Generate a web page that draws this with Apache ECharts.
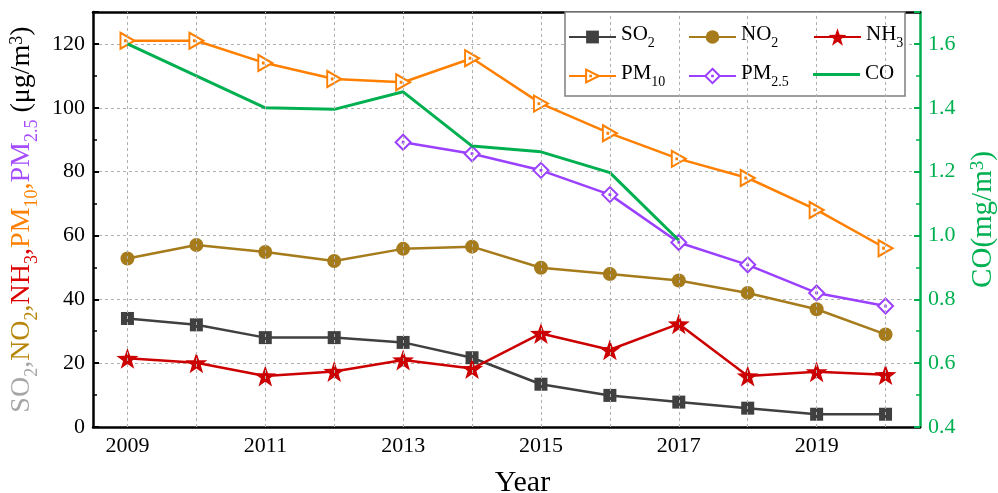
<!DOCTYPE html>
<html>
<head>
<meta charset="utf-8">
<script src="https://cdn.jsdelivr.net/npm/echarts@6/dist/echarts.min.js"></script>
<style>
html,body{margin:0;padding:0;background:#fff;}
#chart{width:998px;height:493px;}
</style>
</head>
<body>
<div id="chart"></div>
<script>
// Annual mean concentrations, 2009-2020
const years = ['2009','2010','2011','2012','2013','2014','2015','2016','2017','2018','2019','2020'];
const so2  = [34, 32, 28, 28, 26.5, 21.7, 13.4, 9.9, 7.8, 5.9, 4.0, 4.0];
const no2  = [52.8, 57, 54.8, 52, 55.8, 56.5, 49.9, 47.9, 45.9, 42, 36.9, 29];
const nh3  = [21.5, 20.1, 16, 17.4, 21, 18.3, 29.3, 24.2, 32.3, 16, 17.3, 16.4];
const pm10 = [121, 121, 114, 109, 108, 115.5, 101.3, 92, 84, 78, 68, 56];
const pm25 = [null, null, null, null, 89.2, 85.6, 80.4, 72.8, 57.8, 50.8, 42, 37.9];
const co   = [1.6, 1.5, 1.4, 1.395, 1.45, 1.28, 1.262, 1.197, 0.985, null, null, null];

const FONT = 'Liberation Serif';
const C = {
  so2: '#404040', no2: '#a67b1b', nh3: '#cc0000',
  pm10: '#ff8000', pm25: '#9b40ff', co: '#00b050'
};

const STAR = 'path://M10,0L12.35,6.76L19.51,6.91L13.8,11.24L15.88,18.09L10,14L4.12,18.09L6.2,11.24L0.49,6.91L7.65,6.76Z';
const TRI  = 'path://M0,0L17,10L0,20ZM5.5,9.5L6.5,9.5L6.5,10.5L5.5,10.5Z';
const DIA  = 'path://M10,0L20,10L10,20L0,10ZM9.5,9.5L10.5,9.5L10.5,10.5L9.5,10.5Z';

// rich-text labels with chemical subscripts
const legendText = {
  'SO2': '{m|SO}{s|2}', 'NO2': '{m|NO}{s|2}', 'NH3': '{m|NH}{s|3}',
  'PM10': '{m|PM}{s|10}', 'PM2.5': '{m|PM}{s|2.5}', 'CO': '{m|CO}'
};
const legendRich = {
  m: { fontFamily: FONT, fontSize: 21, color: '#000', lineHeight: 23, verticalAlign: 'top' },
  s: { fontFamily: FONT, fontSize: 14, color: '#000', verticalAlign: 'top', padding: [12, 0, 0, 0] }
};
const legendNames = ['SO2', 'NO2', 'NH3', 'PM10', 'PM2.5', 'CO'];
const legendIconH = { 'SO2': 16, 'NO2': 17, 'NH3': 22, 'PM10': 16, 'PM2.5': 18, 'CO': 3 };
const legendX = [568, 688, 813];
const legendY = [24, 63];

function nameStyle(color, size) {
  return { fontFamily: FONT, fontSize: size, color: color, lineHeight: size + 2, verticalAlign: 'top' };
}
function subStyle(color, size, pad) {
  return { fontFamily: FONT, fontSize: size, color: color, verticalAlign: 'top', padding: [pad, 0, 0, 0] };
}
function supStyle(color, size) {
  return { fontFamily: FONT, fontSize: size, color: color, verticalAlign: 'top', padding: [0, 0, 0, 0] };
}

const leftName = '{g|SO}{gs|2}{g|,}{b|NO}{bs|2}{b|,}{r|NH}{rs|3}{r|,}{o|PM}{os|10}{o|,}{p|PM}{ps|2.5}{k| (μg/m}{kp|3}{k|)}';
const leftRich = {
  g: nameStyle('#a6a6a6', 28), gs: subStyle('#a6a6a6', 18, 15),
  b: nameStyle('#b8860b', 28), bs: subStyle('#b8860b', 18, 15),
  r: nameStyle('#dd0000', 28), rs: subStyle('#dd0000', 18, 15),
  o: nameStyle('#ff8000', 28), os: subStyle('#ff8000', 18, 15),
  p: nameStyle('#a64dff', 28), ps: subStyle('#a64dff', 18, 15),
  k: nameStyle('#000', 28), kp: supStyle('#000', 18)
};
const rightName = '{c|CO(mg/m}{cp|3}{c|)}';
const rightRich = { c: nameStyle(C.co, 29), cp: supStyle(C.co, 19) };

const gridDash = { type: [3, 3], color: '#b0b0b0', width: 1 };

const option = {
  animation: false,
  backgroundColor: '#fff',
  grid: { left: 93, right: 78, top: 12, bottom: 66, containLabel: false, outerBoundsMode: 'none' },
  legend: legendNames.map((n, i) => ({
    data: n === 'CO' ? [{ name: n, icon: 'rect', itemStyle: { color: C.co } }] : [n],
    left: legendX[i % 3],
    top: legendY[Math.floor(i / 3)],
    padding: 0,
    itemWidth: 47,
    itemHeight: legendIconH[n],
    selectedMode: false,
    z: 6,
    formatter: name => legendText[name],
    textStyle: { fontFamily: FONT, fontSize: 21, color: '#000', rich: legendRich }
  })),
  graphic: [{
    type: 'rect', z: 5, silent: true,
    shape: { x: 565, y: 12, width: 340, height: 84 },
    style: { fill: '#fff', stroke: '#7f7f7f', lineWidth: 1.5 }
  }],
  xAxis: [{
    type: 'category', position: 'bottom', data: years, boundaryGap: true,
    name: 'Year', nameLocation: 'middle', nameGap: 41,
    nameTextStyle: { fontFamily: FONT, fontSize: 30, color: '#000', padding: [0, 0, 0, 32] },
    axisLine: { lineStyle: { color: '#000', width: 2.5 } },
    axisTick: { inside: true, alignWithLabel: true, interval: 1, length: 6, lineStyle: { color: '#000', width: 2 } },
    axisLabel: { interval: 1, margin: 8, fontFamily: FONT, fontSize: 22, color: '#000' },
    splitLine: { show: false }
  }, {
    type: 'category', position: 'top', data: years, boundaryGap: true,
    axisLine: { lineStyle: { color: '#000', width: 2.5 } },
    axisTick: { inside: true, alignWithLabel: true, interval: 0, length: 5, lineStyle: { color: '#000', width: 1.5 } },
    axisLabel: { show: false },
    splitLine: { show: false }
  }],
  yAxis: [{
    type: 'value', position: 'left', min: 0, max: 130, interval: 20,
    name: leftName, nameLocation: 'middle', nameRotate: 90, nameGap: 48,
    nameTextStyle: { fontFamily: FONT, fontSize: 28, rich: leftRich },
    axisLine: { show: true, lineStyle: { color: '#000', width: 2.5 } },
    axisTick: { show: true, inside: true, length: 6, lineStyle: { color: '#000', width: 2 } },
    minorTick: { show: true, splitNumber: 2, length: 4, lineStyle: { color: '#000', width: 1.5 } },
    axisLabel: { margin: 8, fontFamily: FONT, fontSize: 22, color: '#000', showMaxLabel: false },
    splitLine: { show: true, lineStyle: gridDash }
  }, {
    type: 'value', position: 'right', min: 0.4, max: 1.7, interval: 0.2,
    name: rightName, nameLocation: 'middle', nameRotate: 90, nameGap: 49,
    nameTextStyle: { fontFamily: FONT, fontSize: 29, rich: rightRich },
    axisLine: { show: true, lineStyle: { color: C.co, width: 2.5 } },
    axisTick: { show: true, inside: true, length: 6, lineStyle: { color: C.co, width: 2 } },
    minorTick: { show: true, splitNumber: 2, length: 4, lineStyle: { color: C.co, width: 1.5 } },
    axisLabel: { margin: 8, fontFamily: FONT, fontSize: 22, color: C.co, showMaxLabel: false,
      formatter: v => v.toFixed(1) },
    splitLine: { show: false }
  }],
  series: [
    {
      // vertical guide lines at every year
      type: 'line', name: 'guides', data: [], silent: true, z: 1,
      markLine: {
        silent: true, symbol: ['none', 'none'], label: { show: false },
        lineStyle: gridDash, emphasis: { disabled: true },
        data: years.map(y => ({ xAxis: y }))
      }
    },
    {
      name: 'SO2', type: 'line', data: so2, z: 3,
      symbol: 'rect', symbolSize: 13,
      itemStyle: { color: C.so2 }, lineStyle: { color: C.so2, width: 2.5 }
    },
    {
      name: 'NO2', type: 'line', data: no2, z: 3,
      symbol: 'circle', symbolSize: 14,
      itemStyle: { color: C.no2 }, lineStyle: { color: C.no2, width: 2.5 }
    },
    {
      name: 'NH3', type: 'line', data: nh3, z: 3,
      symbol: STAR, symbolSize: 22, symbolKeepAspect: true,
      itemStyle: { color: C.nh3 }, lineStyle: { color: C.nh3, width: 2.5 }
    },
    {
      name: 'PM10', type: 'line', data: pm10, z: 3,
      symbol: TRI, symbolSize: [14, 16],
      itemStyle: { color: '#fff', borderColor: C.pm10, borderWidth: 2 },
      lineStyle: { color: C.pm10, width: 2.5 }
    },
    {
      name: 'PM2.5', type: 'line', data: pm25, z: 3,
      symbol: DIA, symbolSize: 15,
      itemStyle: { color: '#fff', borderColor: C.pm25, borderWidth: 2 },
      lineStyle: { color: C.pm25, width: 2.5 }
    },
    {
      name: 'CO', type: 'line', data: co, yAxisIndex: 1, z: 4,
      symbol: 'none', itemStyle: { color: C.co }, lineStyle: { color: C.co, width: 3 }
    }
  ]
};

const chart = echarts.init(document.getElementById('chart'), null, { renderer: 'canvas' });
chart.setOption(option);
</script>
</body>
</html>
